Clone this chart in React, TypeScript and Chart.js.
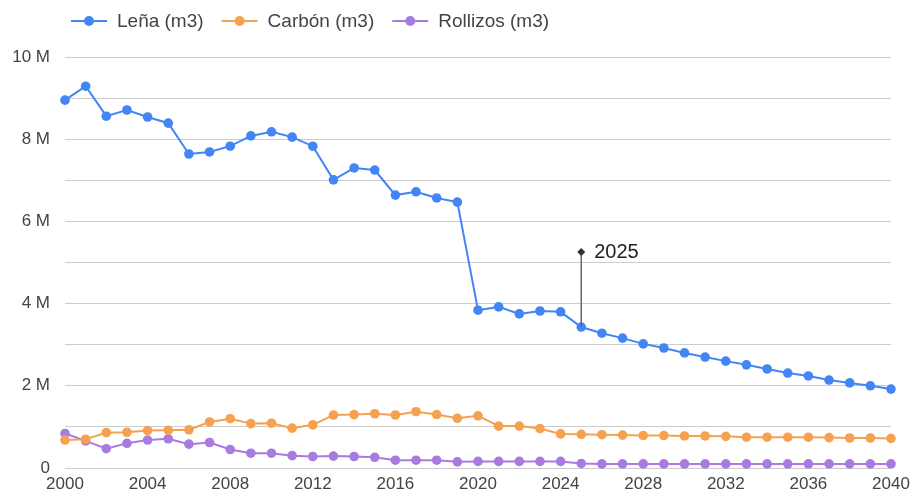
import React, { useEffect, useRef } from "react";
import { Chart, registerables } from "chart.js";

Chart.register(...registerables);

const years = [
  2000, 2001, 2002, 2003, 2004, 2005, 2006, 2007, 2008, 2009, 2010,
  2011, 2012, 2013, 2014, 2015, 2016, 2017, 2018, 2019, 2020,
  2021, 2022, 2023, 2024, 2025, 2026, 2027, 2028, 2029, 2030,
  2031, 2032, 2033, 2034, 2035, 2036, 2037, 2038, 2039, 2040,
];

const lena = [
  8.95, 9.29, 8.56, 8.71, 8.54, 8.39, 7.64, 7.69, 7.83, 8.08, 8.18,
  8.05, 7.83, 7.01, 7.3, 7.25, 6.64, 6.72, 6.57, 6.47, 3.84,
  3.92, 3.75, 3.82, 3.8, 3.43, 3.28, 3.16, 3.02, 2.92, 2.8,
  2.7, 2.6, 2.51, 2.41, 2.31, 2.24, 2.14, 2.07, 2.0, 1.92,
];

const carbon = [
  0.68, 0.7, 0.86, 0.87, 0.91, 0.92, 0.93, 1.12, 1.2, 1.08, 1.09,
  0.97, 1.05, 1.29, 1.3, 1.32, 1.29, 1.37, 1.3, 1.21, 1.27,
  1.02, 1.02, 0.96, 0.83, 0.82, 0.81, 0.8, 0.79, 0.79, 0.78,
  0.78, 0.77, 0.75, 0.75, 0.75, 0.75, 0.74, 0.73, 0.73, 0.72,
];

const rollizos = [
  0.84, 0.66, 0.47, 0.6, 0.68, 0.71, 0.58, 0.62, 0.45, 0.36, 0.36,
  0.3, 0.28, 0.29, 0.28, 0.26, 0.19, 0.19, 0.19, 0.15, 0.16,
  0.16, 0.16, 0.16, 0.16, 0.11, 0.1, 0.1, 0.1, 0.1, 0.1,
  0.1, 0.1, 0.1, 0.1, 0.1, 0.1, 0.1, 0.1, 0.1, 0.1,
];

const seriesNames = ["Leña (m3)", "Carbón (m3)", "Rollizos (m3)"];
const seriesColors = ["#4285f4", "#f6a14f", "#a97be0"];
const xTicks = [2000, 2004, 2008, 2012, 2016, 2020, 2024, 2028, 2032, 2036, 2040];
const annotationYear = 2025;
const annotationText = "2025";

const FONT = "'Liberation Sans', Arial, sans-serif";

const toPoints = (vals: number[]) =>
  years.map((yr, i) => ({ x: yr, y: vals[i] * 1e6 }));

const legendPlugin = {
  id: "customLegend",
  afterDraw(chart: any) {
    const ctx = chart.ctx;
    ctx.save();
    ctx.font = `19px ${FONT}`;
    ctx.textBaseline = "middle";
    let x = 71;
    const y = 21;
    chart.data.datasets.forEach((ds: any) => {
      const c = ds.borderColor;
      ctx.strokeStyle = c;
      ctx.lineWidth = 2;
      ctx.beginPath();
      ctx.moveTo(x, y);
      ctx.lineTo(x + 36, y);
      ctx.stroke();
      ctx.fillStyle = c;
      ctx.beginPath();
      ctx.arc(x + 18, y, 5, 0, Math.PI * 2);
      ctx.fill();
      ctx.fillStyle = "#444444";
      ctx.textAlign = "left";
      ctx.fillText(ds.label, x + 46, y + 1);
      x += 46 + ctx.measureText(ds.label).width + 18;
    });
    ctx.restore();
  },
};

const annotationPlugin = {
  id: "annotationStem",
  afterDatasetsDraw(chart: any) {
    const idx = years.indexOf(annotationYear);
    const meta = chart.getDatasetMeta(0);
    const pt = meta.data[idx];
    if (!pt) return;
    const ctx = chart.ctx;
    const x = pt.x;
    const y0 = pt.y;
    const y1 = y0 - 75;
    ctx.save();
    ctx.strokeStyle = "#666666";
    ctx.lineWidth = 1.5;
    ctx.beginPath();
    ctx.moveTo(x, y0);
    ctx.lineTo(x, y1);
    ctx.stroke();
    ctx.fillStyle = "#333333";
    ctx.beginPath();
    ctx.moveTo(x, y1 - 4);
    ctx.lineTo(x + 4, y1);
    ctx.lineTo(x, y1 + 4);
    ctx.lineTo(x - 4, y1);
    ctx.closePath();
    ctx.fill();
    ctx.font = `20px ${FONT}`;
    ctx.fillStyle = "#222222";
    ctx.textAlign = "left";
    ctx.textBaseline = "middle";
    ctx.fillText(annotationText, x + 13, y1);
    ctx.restore();
  },
};

export default function App() {
  const ref = useRef<HTMLCanvasElement | null>(null);

  useEffect(() => {
    if (!ref.current) return;
    const vals = [lena, carbon, rollizos];
    const chart = new Chart(ref.current, {
      type: "line",
      data: {
        datasets: vals.map((v, i) => ({
          label: seriesNames[i],
          data: toPoints(v),
          borderColor: seriesColors[i],
          backgroundColor: seriesColors[i],
          borderWidth: 2,
          pointRadius: 4.8,
          pointHoverRadius: 4.8,
          pointBorderWidth: 0,
          tension: 0,
          clip: false,
        })),
      },
      options: {
        animation: false,
        responsive: false,
        maintainAspectRatio: false,
        layout: { padding: { top: 57, right: 22, left: 0, bottom: 0 } },
        plugins: {
          legend: { display: false },
          tooltip: { enabled: false },
        },
        scales: {
          x: {
            type: "linear",
            min: 2000,
            max: 2040,
            afterBuildTicks: (scale: any) => {
              scale.ticks = xTicks.map((v) => ({ value: v }));
            },
            afterFit: (scale: any) => {
              scale.height = 30;
              scale.paddingRight = 0;
              scale.paddingLeft = 0;
            },
            grid: { display: false, drawTicks: false },
            border: { display: false },
            ticks: {
              padding: 6,
              color: "#444444",
              font: { family: FONT, size: 17 },
              maxRotation: 0,
              autoSkip: false,
              callback: (v: any) => String(v),
            },
          },
          y: {
            min: 0,
            max: 10e6,
            afterFit: (scale: any) => {
              scale.width = 65;
            },
            grid: { color: "#cccccc", lineWidth: 1, drawTicks: false },
            border: { display: false },
            ticks: {
              stepSize: 1e6,
              padding: 15,
              color: "#444444",
              font: { family: FONT, size: 17 },
              callback: (v: any) => {
                const n = Number(v);
                if (n === 0) return "0";
                if (Math.round(n / 1e6) % 2 !== 0) return "";
                return `${Math.round(n / 1e6)} M`;
              },
            },
          },
        },
      },
      plugins: [legendPlugin, annotationPlugin],
    });
    return () => chart.destroy();
  }, []);

  return (
    <div style={{ position: "fixed", left: 0, top: 0, width: 913, height: 498, background: "#fff" }}>
      <canvas ref={ref} width={913} height={498} style={{ display: "block" }} />
    </div>
  );
}
